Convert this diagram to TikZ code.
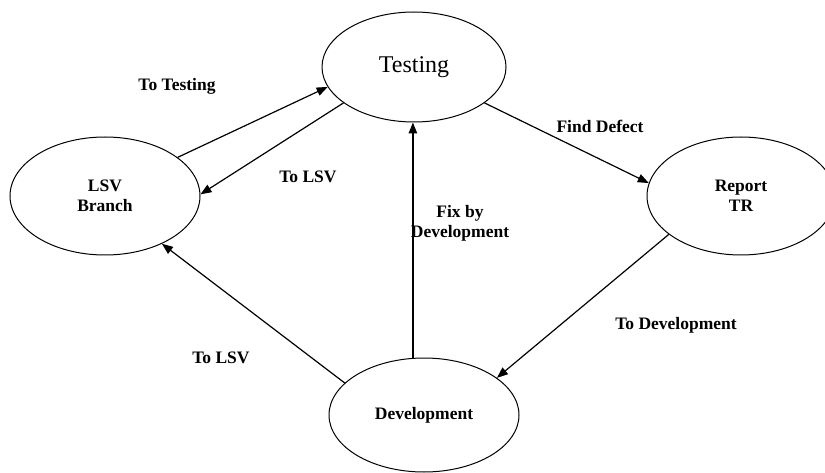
\documentclass[tikz,border=0pt]{standalone}
\usepackage{fontspec}
\setmainfont{Liberation Serif}
\usetikzlibrary{shapes.geometric,arrows.meta}
\tikzset{
  state/.style={draw, ellipse, line width=1pt, inner sep=0pt,
    font=\fontsize{17.5}{20}\selectfont\bfseries, align=center},
  flow/.style={line width=1.2pt, -{Triangle[length=11pt,width=8.5pt]}},
  lbl/.style={font=\fontsize{17.5}{20}\selectfont\bfseries, align=center, inner sep=0pt}
}
\begin{document}
\begin{tikzpicture}[x=1pt,y=-1pt]
  \useasboundingbox (0,0) rectangle (825,473);
  % states
  \node[state, minimum width=184pt, minimum height=110pt,
        font=\fontsize{24}{26}\selectfont] (testing) at (414,67) {Testing};
  \node[state, minimum width=190pt, minimum height=118pt] (lsv) at (105,196) {LSV\\Branch};
  \node[state, minimum width=188pt, minimum height=118pt] (report) at (741,196) {Report\\TR};
  \node[state, minimum width=190pt, minimum height=114pt] (dev) at (424,415) {Development};
  % transitions
  \draw[flow] (lsv.28) -- (testing.193);
  \draw[flow] (testing.207) -- (lsv.1);
  \draw[flow] (testing.-27) -- (report.172);
  \draw[flow] (report.208) -- (dev.27);
  \draw[flow] (dev.158) -- (lsv.-40);
  \draw[flow] (dev.101) -- (dev.101 |- testing.south);
  % labels
  \node[lbl] (l1) at (177,86) {To Testing};
  \node[lbl] (l2) at (308,177) {To LSV};
  \node[lbl] (l3) at (600,126) {Find Defect};
  \node[lbl] (l4) at (460,223) {Fix by\\Development};
  \node[lbl] (l5) at (676,325) {To Development};
  \node[lbl] (l6) at (221,358) {To LSV};
\end{tikzpicture}
\end{document}
